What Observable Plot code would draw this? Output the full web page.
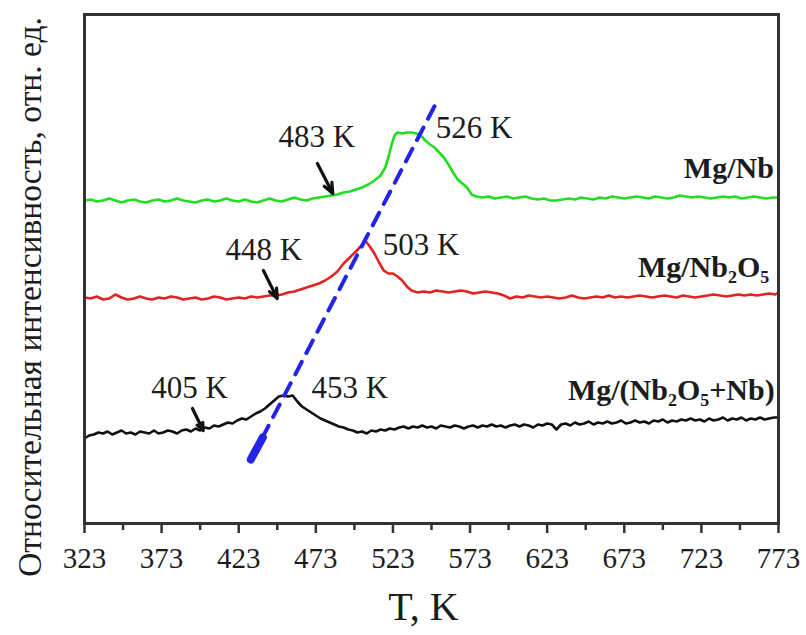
<!DOCTYPE html>
<html><head><meta charset="utf-8">
<script src="https://cdn.jsdelivr.net/npm/d3@7"></script>
<script src="https://cdn.jsdelivr.net/npm/@observablehq/plot@0.6"></script>
<style>body{margin:0;background:#fff;}</style>
</head><body><div id="chart"></div>
<script>
// ---- data ----
const xTicks = [323,373,423,473,523,573,623,673,723,773];
const xMinorTicks = [348,398,448,498,548,598,648,698,748];
const xLabel = "T, K";
const yLabel = "Относительная интенсивность, отн. ед.";

// [T (K), relative intensity (arb.)]
const mgNb = [[323,323],[327,324],[331,322],[335,323],[339,325],[343,323],[347,321],[351,323],[355,324],[359,322],[363,321],[367,323],[371,324],[375,322],[379,323],[383,325],[387,323],[391,322],[395,321],[399,323],[403,324],[407,322],[411,323],[415,325],[419,323],[423,322],[427,324],[431,322],[435,321],[439,323],[443,325],[447,323],[451,322],[455,324],[459,326],[463,324],[467,323],[471,325],[475,326],[479,327],[483,328],[487,329],[491,331],[495,332],[499,334],[503,336],[507,339],[511,343],[515,348],[518,356],[520,366],[522,378],[524,388],[526,391],[529,390],[532,391],[535,391],[538,390],[541,388],[544,383],[547,379],[550,376],[553,371],[556,366],[559,359],[562,351],[565,344],[568,340],[571,336],[574,329],[577,327],[581,326],[585,327],[589,325],[593,326],[597,327],[601,325],[605,326],[609,327],[613,325],[617,324],[621,325],[625,323],[629,323],[633,324],[637,325],[641,324],[645,326],[649,325],[653,324],[657,326],[661,325],[665,327],[669,326],[673,325],[677,326],[681,327],[685,326],[689,325],[693,327],[697,326],[701,325],[705,326],[709,328],[713,327],[717,326],[721,327],[725,326],[729,325],[733,326],[737,327],[741,326],[745,327],[749,325],[753,326],[757,327],[761,326],[765,325],[769,326],[773,326]];

const mgNb2O5 = [[323,196],[323,226],[327,225],[331,227],[335,224],[339,225],[343,229],[347,226],[351,224],[355,225],[359,227],[363,225],[367,224],[371,226],[375,225],[379,227],[383,226],[387,224],[391,225],[395,226],[399,224],[403,225],[407,227],[411,226],[415,224],[419,225],[423,226],[427,225],[431,227],[435,226],[439,227],[443,228],[447,228],[451,229],[455,231],[459,232],[463,234],[467,236],[471,238],[475,240],[479,243],[483,247],[487,252],[491,260],[495,266],[499,272],[502,277],[505,283],[508,277],[511,270],[514,261],[517,253],[520,250],[523,250],[526,247],[529,243],[532,237],[535,233],[539,231],[543,232],[547,231],[551,233],[555,232],[559,231],[563,232],[567,233],[571,232],[575,230],[579,231],[583,232],[587,231],[591,230],[595,228],[599,225],[603,227],[607,226],[611,228],[615,227],[619,226],[623,227],[627,226],[631,225],[635,226],[639,228],[643,226],[647,225],[651,226],[655,227],[659,226],[663,228],[667,226],[671,227],[675,226],[679,227],[683,228],[687,227],[691,226],[695,227],[699,228],[703,227],[707,226],[711,228],[715,227],[719,226],[723,227],[727,228],[731,229],[735,228],[739,227],[743,228],[747,229],[751,228],[755,229],[759,228],[763,229],[767,230],[771,229],[773,231]];

const mgMix = [[323,85],[326,88],[329,89],[332,91],[335,90],[338,92],[341,89],[344,91],[347,93],[350,90],[353,91],[356,89],[359,92],[362,91],[365,90],[368,93],[371,90],[374,91],[377,93],[380,92],[383,90],[386,93],[389,94],[392,92],[395,95],[398,93],[401,96],[404,95],[407,98],[410,97],[413,99],[416,101],[419,100],[422,103],[425,105],[428,104],[431,107],[434,110],[437,112],[440,115],[443,119],[446,123],[449,127],[452,128],[455,127],[458,128],[461,122],[464,117],[467,114],[470,111],[473,108],[476,105],[479,103],[482,101],[485,99],[488,97],[491,96],[494,94],[497,93],[500,91],[503,92],[506,90],[509,93],[512,92],[515,94],[518,93],[521,95],[524,94],[527,96],[530,97],[533,95],[536,97],[539,96],[542,98],[545,96],[548,97],[551,95],[554,98],[557,97],[560,96],[563,98],[566,97],[569,95],[572,97],[575,98],[578,96],[581,98],[584,97],[587,99],[590,97],[593,98],[596,96],[599,98],[602,99],[605,97],[608,99],[611,98],[614,96],[617,99],[620,98],[623,100],[626,99],[629,94],[632,99],[635,100],[638,98],[641,101],[644,99],[647,100],[650,102],[653,99],[656,101],[659,100],[662,102],[665,100],[668,101],[671,103],[674,100],[677,101],[680,103],[683,101],[686,102],[689,100],[692,103],[695,102],[698,104],[701,101],[704,103],[707,102],[710,104],[713,103],[716,105],[719,103],[722,104],[725,102],[728,105],[731,103],[734,104],[737,106],[740,103],[743,105],[746,104],[749,106],[752,103],[755,105],[758,104],[761,106],[764,104],[767,105],[770,106],[773,106]];

const seriesNames = ["Mg/Nb", "Mg/Nb₂O₅", "Mg/(Nb₂O₅+Nb)"];
const seriesColors = ["#22dd22", "#e42222", "#111111"];
const seriesLabelT = [770, 767, 770.5];
const seriesLabelI = [355, 256, 133];

// onset arrows
const arrowTailT = [474, 439, 393];
const arrowTailI = [360, 253, 115];
const arrowTipT = [484, 448, 400];
const arrowTipI = [330, 225, 93];

// temperature annotations
const peakText = ["483 K", "526 K", "448 K", "503 K", "405 K", "453 K"];
const peakT = [473.7, 575.6, 439.2, 541.2, 391.2, 495.1];
const peakI = [386, 395, 273, 278, 135, 135];

// dashed trend line through the peaks
const trendT = [431, 552.9];
const trendI = [64, 426];
const trendFootT = [430.8, 438.6];
const trendFootI = [64, 86];

// ---- chart ----
const series = [mgNb, mgNb2O5, mgMix];
const serif = "'Liberation Serif', 'Times New Roman', serif";
const ink = "#1c1c1c";

const chart = Plot.plot({
  width: 806,
  height: 635,
  marginTop: 14,
  marginRight: 28,
  marginBottom: 112,
  marginLeft: 84,
  style: {fontFamily: serif, background: "#fff", color: ink},
  x: {domain: [323, 773]},
  y: {domain: [0, 509], axis: null},
  marks: [
    ...series.map((s, i) => Plot.line(s, {x: d => d[0], y: d => d[1], stroke: seriesColors[i], strokeWidth: 2.6, curve: "linear"})),
    Plot.line(trendT, {x: d => d, y: (d, i) => trendI[i], stroke: "#2424e8", strokeWidth: 4, strokeDasharray: "14,10"}),
    Plot.line(trendFootT, {x: d => d, y: (d, i) => trendFootI[i], stroke: "#2424e8", strokeWidth: 8}),
    Plot.arrow(arrowTipT, {x1: (d, i) => arrowTailT[i], y1: (d, i) => arrowTailI[i], x2: d => d, y2: (d, i) => arrowTipI[i], stroke: "#111", strokeWidth: 3.2, headLength: 14, headAngle: 45}),
    Plot.text(peakText, {x: (d, i) => peakT[i], y: (d, i) => peakI[i], text: d => d, fontSize: 31, fill: ink, lineAnchor: "middle", ariaLabel: "peak-label"}),
    Plot.text(seriesNames, {x: (d, i) => seriesLabelT[i], y: (d, i) => seriesLabelI[i], text: d => d, fontSize: 30, fontWeight: "bold", fill: ink, textAnchor: "end", lineAnchor: "middle", ariaLabel: "series-label"}),
    Plot.frame({stroke: "#333", strokeWidth: 3}),
    Plot.axisX(xMinorTicks, {tickSize: 7, strokeWidth: 2.5, stroke: "#333", tickFormat: () => "", label: null}),
    Plot.axisX(xTicks, {tickSize: 10, strokeWidth: 2.5, stroke: "#333", tickPadding: 14, fontSize: 29, fill: ink, tickFormat: d => String(d), label: null, ariaLabel: "x-tick-label"}),
    Plot.text([xLabel], {frameAnchor: "bottom", dy: 84, dx: -8, text: d => d, fontSize: 40, fill: ink, textAnchor: "middle", lineAnchor: "middle"}),
    Plot.text([yLabel], {frameAnchor: "left", rotate: -90, dx: -54, dy: 28, text: d => d, fontSize: 33.5, fill: ink, textAnchor: "middle", lineAnchor: "middle"})
  ]
});

// vertical stretch of the regular-weight labels (reference lettering is taller than wide)
chart.querySelectorAll('g[aria-label="peak-label"] text, g[aria-label="x-axis tick label"] text, g[aria-label="x-tick-label"] text').forEach(t => {
  const tr = t.getAttribute("transform") || "";
  t.setAttribute("transform", tr + " scale(1,1.15)");
});

// subscripts in the series labels
const subMap = {"₂": "2", "₅": "5"};
chart.querySelectorAll('g[aria-label="series-label"] text').forEach(t => {
  const s = t.textContent;
  if (!/[₂₅]/.test(s)) return;
  t.textContent = "";
  let shifted = false;
  for (const ch of s) {
    const ts = document.createElementNS("http://www.w3.org/2000/svg", "tspan");
    if (subMap[ch]) {
      ts.textContent = subMap[ch];
      ts.setAttribute("font-size", "26");
      if (!shifted) { ts.setAttribute("dy", "7"); shifted = true; }
    } else {
      ts.textContent = ch;
      if (shifted) { ts.setAttribute("dy", "-7"); shifted = false; }
    }
    t.appendChild(ts);
  }
});

document.getElementById("chart").appendChild(chart);
</script>
</body></html>
